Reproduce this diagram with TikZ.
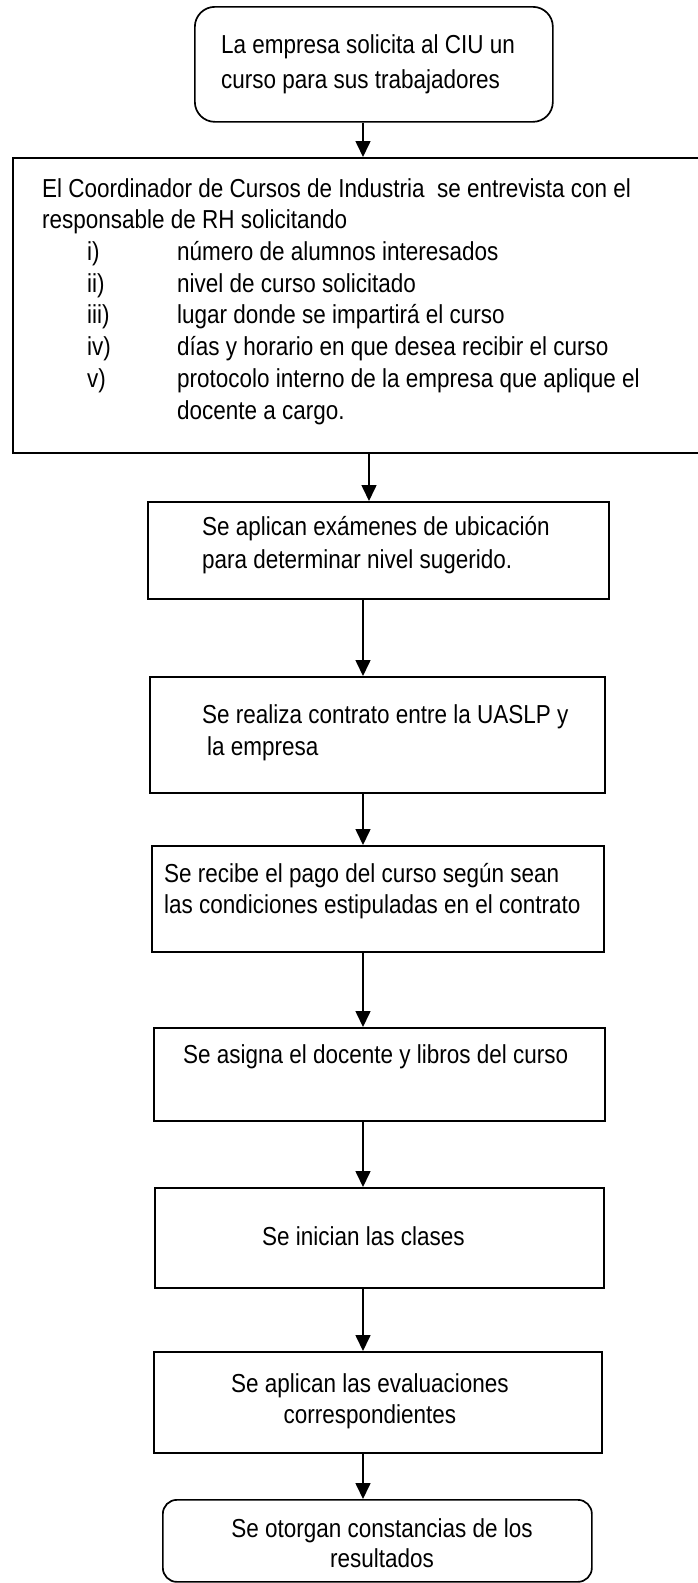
\documentclass[tikz,border=0pt]{standalone}
\usepackage{fontspec}
\setmainfont{Liberation Sans}[FakeStretch=0.865]
\usetikzlibrary{arrows.meta}
\tikzstyle{line} = [draw, line width=1.6pt, -{Triangle[width=15pt,length=16pt]}]
\tikzstyle{block} = [draw, rectangle, line width=1.7pt, anchor=north west, inner sep=0]
\tikzstyle{cloud} = [block, rounded corners=20pt]
\tikzstyle{txt} = [inner sep=0, align=left, anchor=base west, font=\fontsize{26}{32}\selectfont]

\begin{document}
\begin{tikzpicture}[x=1pt, y=-1pt]
        \useasboundingbox (0,0) rectangle (698,1583);
        % boxes
        \node[cloud, minimum width=358, minimum height=115] (start) at (194,6) {};
        \node[block, minimum width=700, minimum height=295] (meeting) at (12,157) {};
        \node[block, minimum width=461, minimum height=97] (exam) at (147,501) {};
        \node[block, minimum width=455, minimum height=116] (contract) at (149,676) {};
        \node[block, minimum width=452, minimum height=106] (payment) at (151,845) {};
        \node[block, minimum width=451, minimum height=93] (teacher) at (153,1027) {};
        \node[block, minimum width=449, minimum height=100] (classes) at (154,1187) {};
        \node[block, minimum width=448, minimum height=101] (evaluation) at (153,1351) {};
        \node[cloud, rounded corners=14pt, minimum width=429, minimum height=82] (certificate) at (162,1499) {};
        % texts (anchored on the baseline of the last line)
        \node[txt, font=\fontsize{26}{35}\selectfont] (startText) at (221,88) {La empresa solicita al CIU un\\curso para sus trabajadores};
        \node[txt, font=\fontsize{26}{31.7}\selectfont] (meetingText) at (42,419) {El Coordinador de Cursos de Industria\ \ se entrevista con el\\
            responsable de RH solicitando\\
            \hspace*{45pt}\makebox[90pt][l]{i)}número de alumnos interesados\\
            \hspace*{45pt}\makebox[90pt][l]{ii)}nivel de curso solicitado\\
            \hspace*{45pt}\makebox[90pt][l]{iii)}lugar donde se impartirá el curso\\
            \hspace*{45pt}\makebox[90pt][l]{iv)}días y horario en que desea recibir el curso\\
            \hspace*{45pt}\makebox[90pt][l]{v)}protocolo interno de la empresa que aplique el\\
            \hspace*{135pt}docente a cargo.};
        \node[txt, font=\fontsize{26}{33}\selectfont] (examText) at (202,568) {Se aplican exámenes de ubicación\\para determinar nivel sugerido.};
        \node[txt] (contractText) at (202,755) {Se realiza contrato entre la UASLP y\\\hspace*{5pt}la empresa};
        \node[txt, font=\fontsize{26}{31}\selectfont] (paymentText) at (164,913) {Se recibe el pago del curso según sean\\las condiciones estipuladas en el contrato};
        \node[txt] (teacherText) at (183,1063) {Se asigna el docente y libros del curso};
        \node[txt] (classesText) at (262,1245) {Se inician las clases};
        \node[txt, align=center, anchor=base, font=\fontsize{26}{31}\selectfont] (evaluationText) at (370,1423) {Se aplican las evaluaciones\\correspondientes};
        \node[txt, align=center, anchor=base, font=\fontsize{26}{30}\selectfont] (certificateText) at (382,1567) {Se otorgan constancias de los\\resultados};
        % arrows
        \coordinate (axis) at (363,0);
        \coordinate (axisB) at (369,0);
        \path[line] (start.south -| axis) -- (meeting.north -| axis);
        \path[line] (meeting.south -| axisB) -- (exam.north -| axisB);
        \path[line] (exam.south -| axis) -- (contract.north -| axis);
        \path[line] (contract.south -| axis) -- (payment.north -| axis);
        \path[line] (payment.south -| axis) -- (teacher.north -| axis);
        \path[line] (teacher.south -| axis) -- (classes.north -| axis);
        \path[line] (classes.south -| axis) -- (evaluation.north -| axis);
        \path[line] (evaluation.south -| axis) -- (certificate.north -| axis);
\end{tikzpicture}
\end{document}
